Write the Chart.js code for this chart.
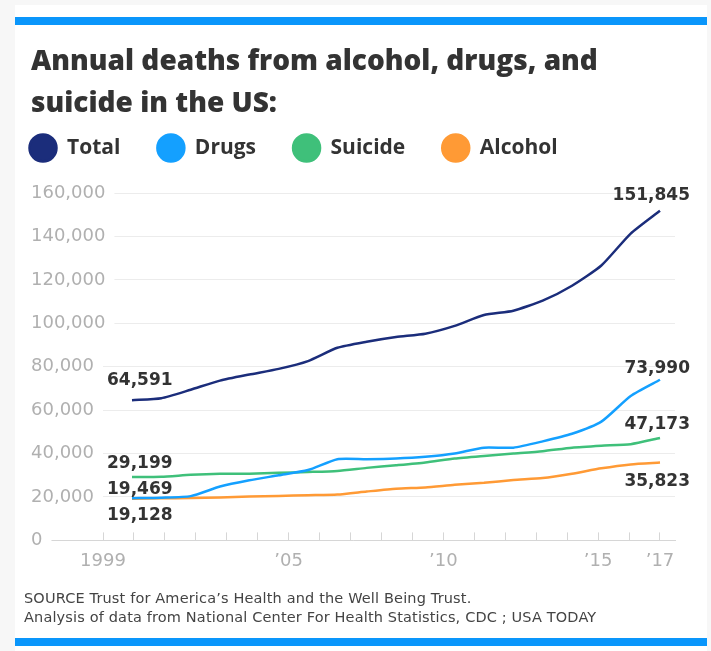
<!DOCTYPE html>
<html>
<head>
<meta charset="utf-8">
<script src="https://cdn.jsdelivr.net/npm/chart.js@4.4.1/dist/chart.umd.min.js"></script>
<style>
  html, body { margin: 0; padding: 0; background: #f7f7f7; }
  body { width: 711px; height: 651px; position: relative; overflow: hidden; }
  .card { position: absolute; left: 15px; top: 5px; width: 692px; height: 646px; background: #fff; }
  .bar { position: absolute; left: 15px; width: 692px; height: 8px; background: #0a96fb; }
  #chart-wrap { position: absolute; left: 15px; top: 30px; width: 692px; height: 564px; }
  .source { position: absolute; left: 24px; top: 589px; font-family: "DejaVu Sans", sans-serif; font-size: 14.5px; letter-spacing: 0.15px; color: #444; line-height: 19px; }
</style>
</head>
<body>
<div class="card"></div>
<div class="bar" style="top:17px"></div>
<div id="chart-wrap"><canvas id="chart"></canvas></div>
<div class="source">
  SOURCE Trust for America’s Health and the Well Being Trust.<br>
  Analysis of data from National Center For Health Statistics, CDC ; USA TODAY
</div>
<div class="bar" style="top:638px"></div>

<script>
const years = [1999, 2000, 2001, 2002, 2003, 2004, 2005, 2006, 2007, 2008,
               2009, 2010, 2011, 2012, 2013, 2014, 2015, 2016, 2017];

const total = [64591, 65500, 69400, 73600, 76400, 79000, 82600, 88700, 91500, 93700,
               95200, 98800, 103800, 105800, 110400, 117300, 126600, 141300, 151845];
const drugs = [19469, 19700, 20400, 24800, 27700, 30000, 32400, 37400, 37400, 37700,
               38500, 40000, 42700, 42700, 45600, 49100, 54700, 66500, 73990];
const suicide = [29199, 29300, 30200, 30700, 30700, 31100, 31500, 32000, 33400, 34600,
                 35900, 37700, 38900, 40000, 41100, 42700, 43600, 44300, 47173];
const alcohol = [19128, 19400, 19500, 19800, 20200, 20500, 20800, 21100, 22500, 23800,
                 24400, 25600, 26500, 27800, 28700, 30700, 33200, 35000, 35823];

const seriesNames = ['Total', 'Drugs', 'Suicide', 'Alcohol'];
const seriesValues = [total, drugs, suicide, alcohol];
const seriesColors = ['#1b2d7b', '#14a0ff', '#3fc07a', '#ff9a35'];

const tickYears = [1999, 2005, 2010, 2015, 2017];
const tickLabels = ['1999', '’05', '’10', '’15', '’17'];
const yLabelValues = [0, 20000, 40000, 60000, 80000, 100000, 120000, 140000, 160000];

const fmt = v => v.toLocaleString('en-US');

// the printed chart puts the data slightly off the year ticks, so the line
// and the tick row use two scales over the same width
const endLabels = {
    id: 'endLabels',
    afterDatasetsDraw(chart) {
        const ctx = chart.ctx;
        const startX = chart.scales.xTicks.getPixelForValue(years[0]) + 4;
        const startDy = [-20, -9, -13, 17];
        const endDy = [-15, -11, -13, 19];
        ctx.save();
        ctx.font = 'bold 17px "DejaVu Sans"';
        ctx.fillStyle = '#333';
        ctx.textBaseline = 'middle';
        chart.data.datasets.forEach((ds, i) => {
            const pts = chart.getDatasetMeta(i).data;
            const first = pts[0];
            const last = pts[pts.length - 1];
            ctx.textAlign = 'left';
            ctx.fillText(fmt(ds.data[0].y), startX, first.y + startDy[i]);
            ctx.textAlign = 'right';
            ctx.fillText(fmt(ds.data[ds.data.length - 1].y), last.x + 30, last.y + endDy[i]);
        });
        ctx.restore();
    }
};

// legend sits tighter to the title and further left than chart.js puts it
const legendNudge = {
    id: 'legendNudge',
    afterLayout(chart) {
        chart.legend.left -= 38.5;
        chart.legend.top -= 24.5;
    }
};

new Chart(document.getElementById('chart'), {
    type: 'line',
    data: {
        datasets: seriesNames.map((name, i) => ({
            label: name,
            data: years.map((yr, j) => ({ x: yr, y: seriesValues[i][j] })),
            borderColor: seriesColors[i],
            backgroundColor: seriesColors[i],
            borderWidth: 2.5,
            pointRadius: 0,
            tension: 0.2,
            xAxisID: 'x'
        }))
    },
    options: {
        responsive: true,
        maintainAspectRatio: false,
        animation: false,
        layout: { padding: { left: 16, right: 32, top: 0, bottom: 4 } },
        plugins: {
            tooltip: { enabled: false },
            title: {
                display: true,
                text: ['Annual deaths from alcohol, drugs, and', 'suicide in the US:'],
                align: 'start',
                color: '#333',
                font: { family: 'Open Sans', size: 28, weight: 800, lineHeight: 1.5 },
                padding: { top: 11, bottom: 0 }
            },
            legend: {
                align: 'start',
                labels: {
                    usePointStyle: true,
                    pointStyle: 'circle',
                    pointStyleWidth: 27,
                    boxHeight: 19,
                    padding: 37,
                    color: '#333',
                    font: { family: 'Open Sans', size: 21, weight: 'bold' }
                }
            }
        },
        scales: {
            x: {
                type: 'linear',
                display: false,
                min: 1995.557,
                max: 2017.511
            },
            xTicks: {
                type: 'linear',
                position: 'bottom',
                min: 1996.673,
                max: 2017.485,
                afterBuildTicks: scale => {
                    scale.ticks = years.map(v => ({ value: v }));
                },
                grid: { drawOnChartArea: false, tickLength: -8, color: '#d6d6d6' },
                border: { display: true, color: '#d6d6d6' },
                ticks: {
                    autoSkip: false,
                    maxRotation: 0,
                    padding: 18,
                    color: '#b0b0b0',
                    font: { family: 'DejaVu Sans', size: 18 },
                    callback: v => {
                        const k = tickYears.indexOf(v);
                        return k < 0 ? '' : tickLabels[k];
                    }
                }
            },
            y: {
                min: 0,
                max: 160000,
                grid: { color: '#ececec', drawTicks: false },
                border: { display: false },
                ticks: {
                    stepSize: 10000,
                    mirror: true,
                    padding: 0,
                    z: 1,
                    font: { family: 'DejaVu Sans', size: 18 },
                    color: ctx => yLabelValues.includes(ctx.tick.value) ? '#b0b0b0' : 'rgba(0,0,0,0)',
                    showLabelBackdrop: true,
                    backdropColor: '#fff',
                    backdropPadding: { left: 0, right: 9, top: 2, bottom: 2 },
                    callback: v => fmt(v)
                }
            }
        }
    },
    plugins: [endLabels, legendNudge]
});
</script>
</body>
</html>
